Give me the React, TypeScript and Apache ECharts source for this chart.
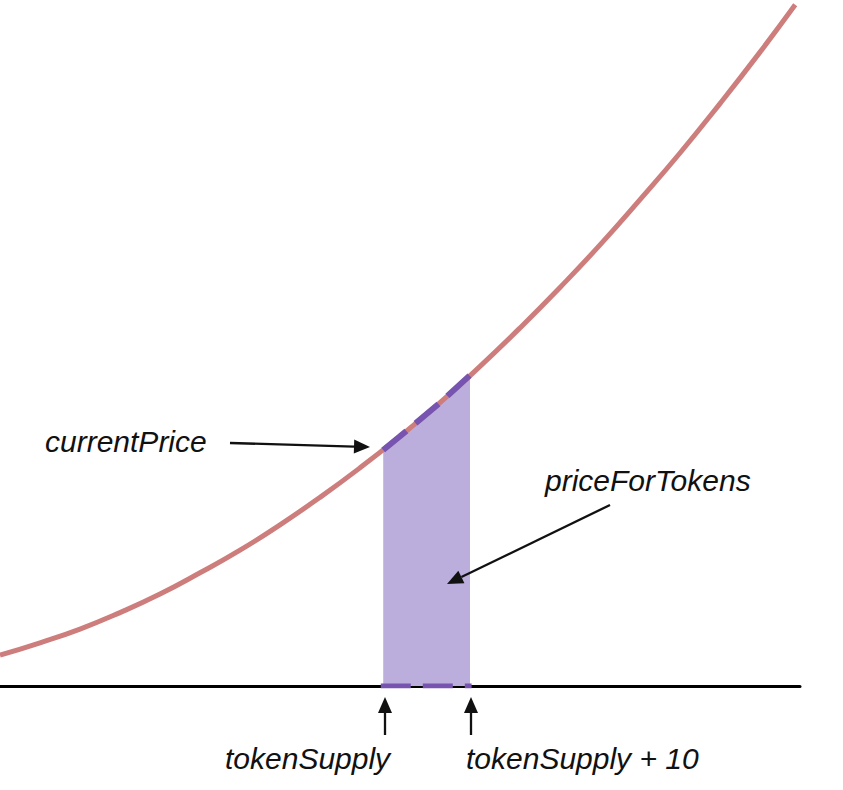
import React, { useEffect, useRef } from "react";
import * as echarts from "echarts";

// Bonding curve (price vs supply)
const curveX = [0, 5, 10, 15, 20, 25, 30, 35, 40, 45, 50, 55, 60, 65, 70, 75, 80, 85, 90, 95, 99.4];
const curveY = [4.5, 6.3, 8.3, 10.7, 13.4, 16.5, 19.8, 23.5, 27.5, 31.8, 36.4, 41.3, 46.6, 52.2, 58.1, 64.3, 70.9, 77.7, 84.9, 92.4, 99.3];

// Shaded segment: tokenSupply .. tokenSupply + 10
const areaX = [47.9, 50, 55, 58.75];
const areaY = [34.4, 36.4, 41.3, 45.3];

const labels = ["currentPrice", "priceForTokens", "tokenSupply", "tokenSupply + 10"];

const FONT = { fontSize: 30, fontStyle: "italic", fontFamily: "Liberation Sans, Arial, sans-serif", fill: "#111" };

function arrow(x1: number, y1: number, x2: number, y2: number) {
  const a = Math.atan2(y2 - y1, x2 - x1);
  const L = 16, W = 7;
  const bx = x2 - L * Math.cos(a), by = y2 - L * Math.sin(a);
  const px = -Math.sin(a), py = Math.cos(a);
  return [
    { type: "line", shape: { x1, y1, x2: bx, y2: by }, style: { stroke: "#111", lineWidth: 2.3 }, z: 100 },
    {
      type: "polygon",
      shape: { points: [[x2, y2], [bx + W * px, by + W * py], [bx - W * px, by - W * py]] },
      style: { fill: "#111" },
      z: 100,
    },
  ];
}

export default function App() {
  const ref = useRef<HTMLDivElement>(null);
  useEffect(() => {
    document.body.style.margin = "0";
    const chart = echarts.init(ref.current!, undefined, { renderer: "svg" });
    const curve = curveX.map((x, i) => [x, curveY[i]]);
    const area = areaX.map((x, i) => [x, areaY[i]]);
    chart.setOption({
      animation: false,
      backgroundColor: "#ffffff",
      grid: { left: 0, right: 43, top: 0, bottom: 104 },
      xAxis: {
        type: "value", min: 0, max: 100,
        axisLine: { show: true, lineStyle: { color: "#000", width: 3 } },
        axisTick: { show: false }, axisLabel: { show: false }, splitLine: { show: false },
      },
      yAxis: {
        type: "value", min: 0, max: 100,
        axisLine: { show: false }, axisTick: { show: false }, axisLabel: { show: false }, splitLine: { show: false },
      },
      series: [
        {
          type: "line", data: area, showSymbol: false, symbol: "none", z: 1,
          lineStyle: { width: 0, opacity: 0 },
          areaStyle: { color: "#bcaedc", opacity: 1 },
        },
        {
          type: "line", data: curve, smooth: true, showSymbol: false, symbol: "none", z: 2,
          lineStyle: { color: "#cd7e7c", width: 5 },
        },
        {
          type: "line", data: area, showSymbol: false, symbol: "none", z: 3,
          lineStyle: { color: "#7754b0", width: 6, type: [30, 12] },
        },
        {
          type: "line", data: [[areaX[0] - 0.3, 0], [areaX[areaX.length - 1] + 0.2, 0]], showSymbol: false, symbol: "none", z: 3,
          lineStyle: { color: "#7754b0", width: 5, type: [30, 12] },
        },
      ],
      graphic: [
        { type: "text", x: 45, y: 441, z: 100, style: { ...FONT, text: labels[0], textAlign: "left", verticalAlign: "middle" } },
        { type: "text", x: 545, y: 480, z: 100, style: { ...FONT, text: labels[1], textAlign: "left", verticalAlign: "middle" } },
        { type: "text", x: 225, y: 758, z: 100, style: { ...FONT, text: labels[2], textAlign: "left", verticalAlign: "middle" } },
        { type: "text", x: 466, y: 758, z: 100, style: { ...FONT, text: labels[3], textAlign: "left", verticalAlign: "middle" } },
        ...arrow(230, 443, 370, 447),
        ...arrow(610, 505, 447, 584),
        ...arrow(385, 735, 385, 697),
        ...arrow(471, 735, 471, 697),
      ],
    });
    return () => chart.dispose();
  }, []);
  return <div ref={ref} style={{ position: "fixed", left: 0, top: 0, width: 843, height: 790 }} />;
}
